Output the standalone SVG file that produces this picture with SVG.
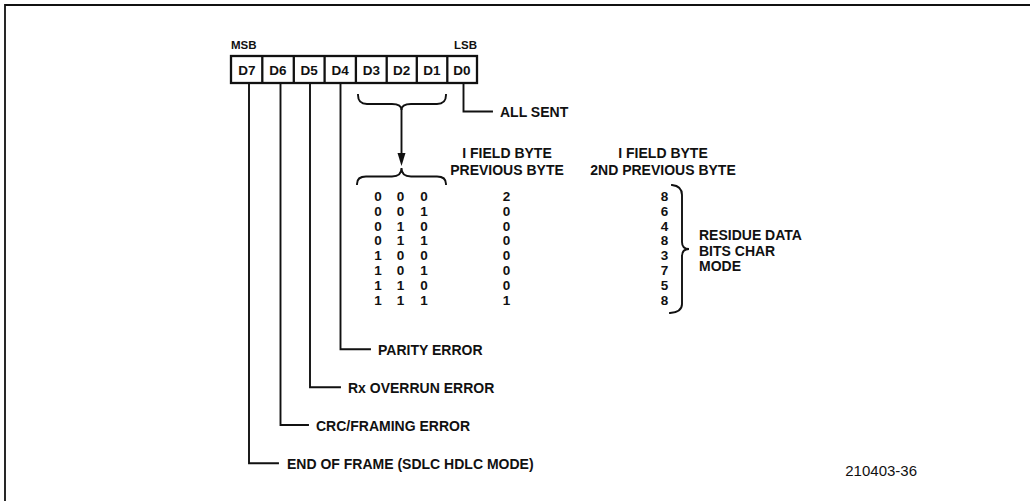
<svg xmlns="http://www.w3.org/2000/svg" width="1030" height="501" viewBox="0 0 1030 501">
<style>
.ln{fill:none;stroke:#111;stroke-width:1.9;stroke-linecap:square}
.bx{fill:#fff;stroke:#111;stroke-width:2.3}
.t{font-family:"Liberation Sans",Arial,sans-serif;font-weight:bold;font-size:14px;fill:#111}
.s{font-family:"Liberation Sans",Arial,sans-serif;font-weight:bold;font-size:11.5px;fill:#111}
.c{font-family:"Liberation Sans",Arial,sans-serif;font-weight:bold;font-size:13.5px;fill:#111;text-anchor:middle}
.d{font-family:"Liberation Sans",Arial,sans-serif;font-weight:bold;font-size:13.5px;fill:#111;text-anchor:middle}
.m{text-anchor:middle}
</style>
<rect width="1030" height="501" fill="#fff"/>
<g id="frame"><path d="M5,501 V5 H1030" fill="none" stroke="#111" stroke-width="1.8"/></g>

<g id="msb"><text class="s" x="231" y="49">MSB</text></g>
<g id="lsb"><text class="s" x="477" y="49" text-anchor="end">LSB</text></g>

<g id="register">
<rect class="bx" x="231" y="56" width="246" height="27"/>
<path d="M262.3,56V83M293.8,56V83M324.6,56V83M355.9,56V83M386.7,56V83M416.8,56V83M447.3,56V83" stroke="#111" stroke-width="2.3"/>
<text class="c" x="247" y="75">D7</text>
<text class="c" x="278" y="75">D6</text>
<text class="c" x="309.2" y="75">D5</text>
<text class="c" x="340.2" y="75">D4</text>
<text class="c" x="371.3" y="75">D3</text>
<text class="c" x="401.7" y="75">D2</text>
<text class="c" x="432" y="75">D1</text>
<text class="c" x="462" y="75">D0</text>
</g>

<g id="connectors">
<path class="ln" d="M463.5,84 V111.5 H492"/>
<path class="ln" d="M340.5,84 V349.3 H370"/>
<path class="ln" d="M310,84 V387.3 H340"/>
<path class="ln" d="M280.5,84 V425 H308"/>
<path class="ln" d="M249,84 V463.3 H278"/>
<path class="ln" stroke-linecap="butt" d="M358,95 Q358,104 367,104 L392,104 Q401.5,104 401.5,110 Q401.5,104 411,104 L437,104 Q446,104 446,95"/>
<path class="ln" stroke-linecap="butt" d="M401.5,110 V155"/>
<polygon points="397.5,153 405.5,153 401.5,166" fill="#111"/>
<path class="ln" stroke-linecap="butt" d="M357,184 Q357,176.5 366,176.5 L392,176.5 Q401.5,176.5 401.5,168 Q401.5,176.5 411,176.5 L437,176.5 Q446,176.5 446,184"/>
<path class="ln" stroke-linecap="butt" d="M672,185 Q682,186 682,195 L682,242 Q682,249 689,249 Q682,249 682,256 L682,304 Q682,312 670,313"/>
</g>

<g id="all-sent"><text class="t" x="500" y="116.5">ALL SENT</text></g>
<g id="parity-error"><text class="t" x="378" y="355">PARITY ERROR</text></g>
<g id="rx-overrun-error"><text class="t" x="348" y="393">Rx OVERRUN ERROR</text></g>
<g id="crc-framing-error"><text class="t" x="316" y="431">CRC/FRAMING ERROR</text></g>
<g id="end-of-frame"><text class="t" x="287" y="469">END OF FRAME (SDLC HDLC MODE)</text></g>

<g id="header-previous">
<text class="t m" x="507" y="158">I FIELD BYTE</text>
<text class="t m" x="507" y="175">PREVIOUS BYTE</text>
</g>
<g id="header-2nd-previous">
<text class="t m" x="663" y="158">I FIELD BYTE</text>
<text class="t m" x="663" y="175">2ND PREVIOUS BYTE</text>
</g>

<g id="table">
<text class="d" x="378" y="200.7">0</text><text class="d" x="400.5" y="200.7">0</text><text class="d" x="424" y="200.7">0</text><text class="d" x="506.5" y="200.7">2</text><text class="d" x="664.5" y="200.7">8</text>
<text class="d" x="378" y="215.6">0</text><text class="d" x="400.5" y="215.6">0</text><text class="d" x="424" y="215.6">1</text><text class="d" x="506.5" y="215.6">0</text><text class="d" x="664.5" y="215.6">6</text>
<text class="d" x="378" y="230.5">0</text><text class="d" x="400.5" y="230.5">1</text><text class="d" x="424" y="230.5">0</text><text class="d" x="506.5" y="230.5">0</text><text class="d" x="664.5" y="230.5">4</text>
<text class="d" x="378" y="245.4">0</text><text class="d" x="400.5" y="245.4">1</text><text class="d" x="424" y="245.4">1</text><text class="d" x="506.5" y="245.4">0</text><text class="d" x="664.5" y="245.4">8</text>
<text class="d" x="378" y="260.3">1</text><text class="d" x="400.5" y="260.3">0</text><text class="d" x="424" y="260.3">0</text><text class="d" x="506.5" y="260.3">0</text><text class="d" x="664.5" y="260.3">3</text>
<text class="d" x="378" y="275.2">1</text><text class="d" x="400.5" y="275.2">0</text><text class="d" x="424" y="275.2">1</text><text class="d" x="506.5" y="275.2">0</text><text class="d" x="664.5" y="275.2">7</text>
<text class="d" x="378" y="290.1">1</text><text class="d" x="400.5" y="290.1">1</text><text class="d" x="424" y="290.1">0</text><text class="d" x="506.5" y="290.1">0</text><text class="d" x="664.5" y="290.1">5</text>
<text class="d" x="378" y="305">1</text><text class="d" x="400.5" y="305">1</text><text class="d" x="424" y="305">1</text><text class="d" x="506.5" y="305">1</text><text class="d" x="664.5" y="305">8</text>
</g>

<g id="residue-label">
<text class="t" x="699" y="240">RESIDUE DATA</text>
<text class="t" x="699" y="255.5">BITS CHAR</text>
<text class="t" x="699" y="271">MODE</text>
</g>

<g id="figure-number"><text x="917" y="476" text-anchor="end" font-family="Liberation Sans, Arial, sans-serif" font-size="15" fill="#111">210403-36</text></g>
</svg>
